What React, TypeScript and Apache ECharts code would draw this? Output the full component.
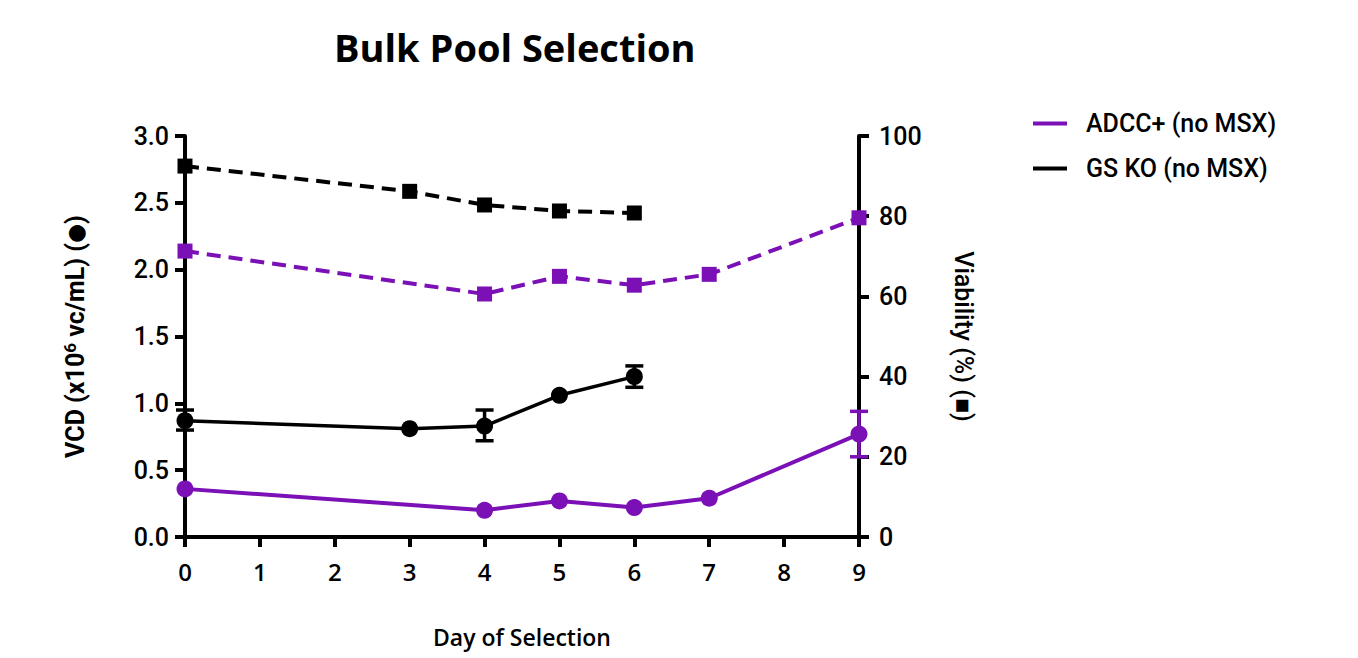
import React, { useEffect, useRef } from "react";
import * as echarts from "echarts";

const PURPLE = "#7A10B6";
const BLACK = "#000000";

const days = [0, 1, 2, 3, 4, 5, 6, 7, 8, 9];
const gsDays = [0, 3, 4, 5, 6];
const gsVCD = [0.87, 0.81, 0.83, 1.06, 1.2];
const gsVCDLow = [0.8, 0.81, 0.72, 1.06, 1.12];
const gsVCDHigh = [0.95, 0.81, 0.95, 1.06, 1.28];
const gsViability = [92.5, 86.2, 82.8, 81.3, 80.8];

const adccDays = [0, 4, 5, 6, 7, 9];
const adccVCD = [0.36, 0.2, 0.27, 0.22, 0.29, 0.77];
const adccVCDLow = [0.36, 0.2, 0.27, 0.22, 0.29, 0.6];
const adccVCDHigh = [0.36, 0.2, 0.27, 0.22, 0.29, 0.94];
const adccViability = [71.3, 60.6, 65.0, 62.8, 65.5, 79.6];

const legendNames = ["ADCC+ (no MSX)", "GS KO (no MSX)"];

const pairs = (xs: number[], ys: number[]) => xs.map((x, i) => [x, ys[i]]);
const errData = (xs: number[], lo: number[], hi: number[]) =>
  xs.map((x, i) => [x, lo[i], hi[i]]).filter((d) => d[2] - d[1] > 0.001);

const errSeries = (data: number[][], color: string) => ({
  type: "custom",
  yAxisIndex: 0,
  z: 5,
  encode: { x: 0, y: [1, 2] },
  data,
  renderItem: (params: any, api: any) => {
    const x = api.value(0);
    const p1 = api.coord([x, api.value(1)]);
    const p2 = api.coord([x, api.value(2)]);
    const w = 9;
    const style = { stroke: color, lineWidth: 3.5 };
    return {
      type: "group",
      children: [
        { type: "line", shape: { x1: p1[0], y1: p1[1], x2: p2[0], y2: p2[1] }, style },
        { type: "line", shape: { x1: p1[0] - w, y1: p1[1], x2: p1[0] + w, y2: p1[1] }, style },
        { type: "line", shape: { x1: p2[0] - w, y1: p2[1], x2: p2[0] + w, y2: p2[1] }, style },
      ],
    };
  },
});

export default function App() {
  const ref = useRef<HTMLDivElement>(null);
  useEffect(() => {
    if (!ref.current) return;
    const chart = echarts.init(ref.current, undefined, { renderer: "svg" });
    const labelFont = "Roboto";
    const axisLine = { show: true, lineStyle: { color: "#000", width: 4 } };
    const axisTick = { show: true, length: 10, lineStyle: { color: "#000", width: 4 } };
    chart.setOption({
      animation: false,
      backgroundColor: "#ffffff",
      title: {
        text: "Bulk Pool Selection",
        left: 329,
        top: 23,
        textStyle: { fontFamily: "Open Sans", fontWeight: 700, fontSize: 38, color: "#000" },
      },
      legend: {
        data: legendNames,
        orient: "vertical",
        left: 1028,
        top: 106,
        itemGap: 20,
        itemWidth: 34,
        itemHeight: 4,
        icon: "rect",
        textStyle: { fontFamily: labelFont, fontWeight: 500, fontSize: 25, color: "#000", padding: [0, 0, 0, 14] },
      },
      grid: { left: 185, right: 499, top: 136, bottom: 121, containLabel: false },
      xAxis: {
        type: "value",
        min: 0,
        max: 9,
        interval: 1,
        data: days,
        name: "Day of Selection",
        nameLocation: "middle",
        nameGap: 88,
        nameTextStyle: { fontFamily: "Open Sans", fontWeight: 600, fontSize: 23, color: "#000" },
        axisLine,
        axisTick,
        axisLabel: { fontFamily: "Open Sans", fontWeight: 600, fontSize: 24, color: "#000", margin: 22 },
        splitLine: { show: false },
      },
      yAxis: [
        {
          type: "value",
          min: 0,
          max: 3,
          interval: 0.5,
          position: "left",
          name: "{a|VCD (x10}{s|6}{a| vc/mL) (}{c|●}{a|)}",
          nameLocation: "middle",
          nameRotate: 90,
          nameGap: 96,
          nameTextStyle: {
            rich: {
              a: { fontFamily: labelFont, fontWeight: "bold", fontSize: 25, color: "#000" },
              c: { fontFamily: "DejaVu Sans", fontSize: 22, color: "#000" },
              s: { fontFamily: labelFont, fontWeight: "bold", fontSize: 17, color: "#000", verticalAlign: "top", padding: [0, 0, 11, 0] },
            },
          },
          axisLine,
          axisTick,
          axisLabel: { fontFamily: labelFont, fontWeight: 500, fontSize: 25, color: "#000", margin: 16, formatter: (v: number) => v.toFixed(1) },
          splitLine: { show: false },
        },
        {
          type: "value",
          min: 0,
          max: 100,
          interval: 20,
          position: "right",
          name: "Viability (%) (■)",
          nameLocation: "middle",
          nameRotate: -90,
          nameGap: 92,
          nameTextStyle: { fontFamily: labelFont, fontWeight: 500, fontSize: 25, color: "#000" },
          axisLine,
          axisTick,
          axisLabel: { fontFamily: labelFont, fontWeight: 500, fontSize: 25, color: "#000", margin: 20 },
          splitLine: { show: false },
        },
      ],
      series: [
        {
          name: "GS KO viability",
          type: "line",
          yAxisIndex: 1,
          data: pairs(gsDays, gsViability),
          symbol: "rect",
          symbolSize: 15,
          itemStyle: { color: BLACK },
          lineStyle: { color: BLACK, width: 4, type: [14, 8] },
          z: 3,
        },
        {
          name: "ADCC+ viability",
          type: "line",
          yAxisIndex: 1,
          data: pairs(adccDays, adccViability),
          symbol: "rect",
          symbolSize: 15,
          itemStyle: { color: PURPLE },
          lineStyle: { color: PURPLE, width: 4, type: [14, 8] },
          z: 3,
        },
        {
          name: legendNames[1],
          type: "line",
          yAxisIndex: 0,
          data: pairs(gsDays, gsVCD),
          symbol: "circle",
          symbolSize: 17,
          itemStyle: { color: BLACK },
          lineStyle: { color: BLACK, width: 3.5 },
          z: 4,
        },
        {
          name: legendNames[0],
          type: "line",
          yAxisIndex: 0,
          data: pairs(adccDays, adccVCD),
          symbol: "circle",
          symbolSize: 17,
          itemStyle: { color: PURPLE },
          lineStyle: { color: PURPLE, width: 4 },
          z: 4,
        },
        errSeries(errData(gsDays, gsVCDLow, gsVCDHigh), BLACK),
        errSeries(errData(adccDays, adccVCDLow, adccVCDHigh), PURPLE),
      ],
    });
    return () => chart.dispose();
  }, []);
  return <div ref={ref} style={{ width: 1358, height: 658, position: "absolute", left: 0, top: 0 }} />;
}
